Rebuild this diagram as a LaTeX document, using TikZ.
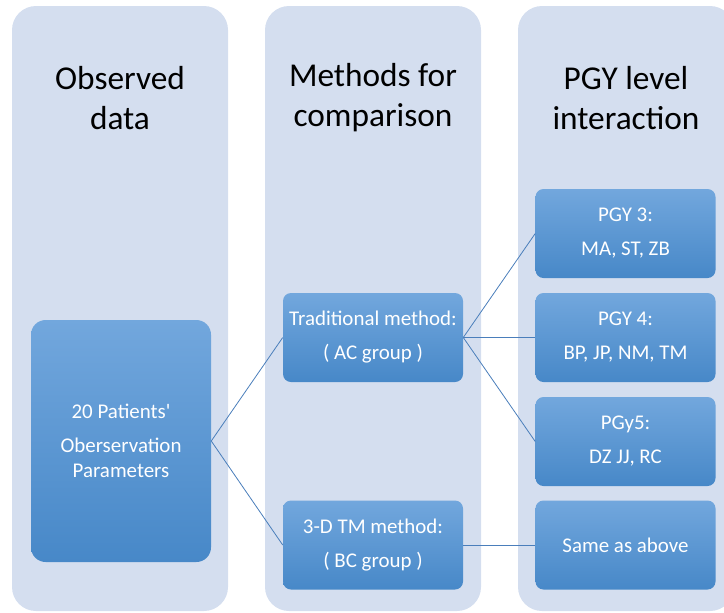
\documentclass[tikz,border=0pt]{standalone}
\usepackage{fontspec}
\setmainfont{Carlito}
\definecolor{colbg}{HTML}{D4DEEF}
\definecolor{boxtop}{HTML}{72A7DD}
\definecolor{boxbot}{HTML}{4788C8}
\definecolor{linkc}{HTML}{4A7EBB}
\tikzset{
  stagebox/.style={rounded corners=6pt, top color=boxtop, bottom color=boxbot, text=white, align=center, inner sep=0pt, minimum width=135pt, minimum height=66.75pt, font=\fontsize{15.7}{18.5}\selectfont},
  link/.style={draw=linkc, line width=0.6pt},
  colhead/.style={align=center, text=black, font=\fontsize{25}{30}\selectfont}
}
\begin{document}
\begin{tikzpicture}[x=0.75pt,y=0.75pt,yscale=-1,xscale=1]
    \clip (0,0) rectangle (724,612);
    % Rounded Rect (columns)
    \fill[colbg, rounded corners=18pt] (12,6) rectangle (228,611);
    \fill[colbg, rounded corners=18pt] (265,6) rectangle (481,611);
    \fill[colbg, rounded corners=18pt] (518,6) rectangle (734,611);

    % Text Nodes (headers)
    \node[colhead] (hobs) at (120,98) {Observed\\data};
    \node[colhead] (hmeth) at (373,98) {Methods for\\comparison};
    \node[colhead] (hpgy) at (626,98) {PGY level\\interaction};

    % Rounded Rect (boxes)
    \node[stagebox, minimum height=181.5pt, rounded corners=11pt] (obs) at (121,441) {20 Patients\textquotesingle\\[7pt]Oberservation\\Parameters};
    \node[stagebox] (trad) at (373,337.5) {Traditional method:\\[7pt]( AC group )};
    \node[stagebox] (tdm) at (373,545) {3-D TM method:\\[7pt]( BC group )};
    \node[stagebox] (pgy3) at (625.5,233.5) {PGY 3:\\[7pt]MA, ST, ZB};
    \node[stagebox] (pgy4) at (625.5,337.5) {PGY 4:\\[7pt]BP, JP, NM, TM};
    \node[stagebox] (pgy5) at (625.5,441.5) {PGy5:\\[7pt]DZ JJ, RC};
    \node[stagebox] (same) at (625.5,545) {Same as above};

    % Straight Lines
    \draw[link] (obs.east) -- (trad.west);
    \draw[link] (obs.east) -- (tdm.west);
    \draw[link] (trad.east) -- (pgy3.west);
    \draw[link] (trad.east) -- (pgy4.west);
    \draw[link] (trad.east) -- (pgy5.west);
    \draw[link] (tdm.east) -- (same.west);
\end{tikzpicture}
\end{document}
